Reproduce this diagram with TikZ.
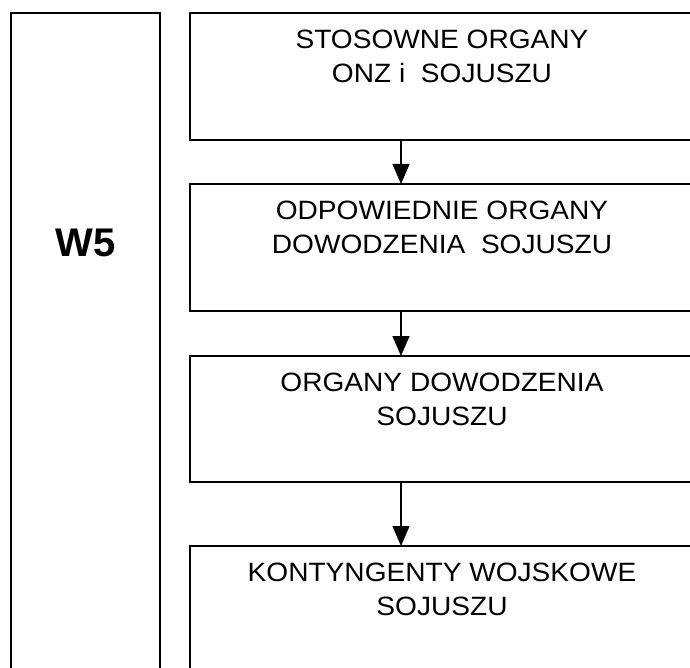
\documentclass[tikz,border=0pt]{standalone}
\usepackage{fontspec}
\setmainfont{Liberation Sans}
\newfontfamily\orgfont{Liberation Sans}[FakeStretch=1.06]
\usetikzlibrary{arrows.meta}

\newcommand{\boxtext}[2][127pt]{\parbox[c][#1][t]{504pt}{\centering\orgfont\fontsize{26.5pt}{34pt}\selectfont\vspace*{17pt}#2}}

\begin{document}
\begin{tikzpicture}[x=1pt,y=-1pt,
  org node/.style={draw,rectangle,inner sep=0pt,outer sep=0pt,anchor=north west,line width=1.2pt},
  side node/.style={org node}]
  \useasboundingbox (0,0) rectangle (690,668);
  \clip (0,0) rectangle (690,668);

  \node[side node] (w5) at (11,13) {\parbox[c][690pt][t]{149pt}{\centering\bfseries\fontsize{40pt}{40pt}\selectfont\vspace*{216pt}W5}};

  \node[org node] (1) at (190,13) {\boxtext{STOSOWNE ORGANY\\ONZ i~ SOJUSZU}};
  \node[org node] (2) at (190,184) {\boxtext{ODPOWIEDNIE ORGANY\\DOWODZENIA~ SOJUSZU}};
  \node[org node] (3) at (190,356) {\boxtext[126pt]{ORGANY DOWODZENIA\\SOJUSZU}};
  \node[org node] (4) at (190,546) {\boxtext[140pt]{KONTYNGENTY WOJSKOWE\\SOJUSZU}};

  \path[line width=1.2pt,-{Triangle[length=20pt,width=17pt]}]
   ([xshift=211pt]1.south west) edge ([xshift=211pt]2.north west)
   ([xshift=211pt]2.south west) edge ([xshift=211pt]3.north west)
   ([xshift=211pt]3.south west) edge ([xshift=211pt]4.north west);
\end{tikzpicture}
\end{document}
